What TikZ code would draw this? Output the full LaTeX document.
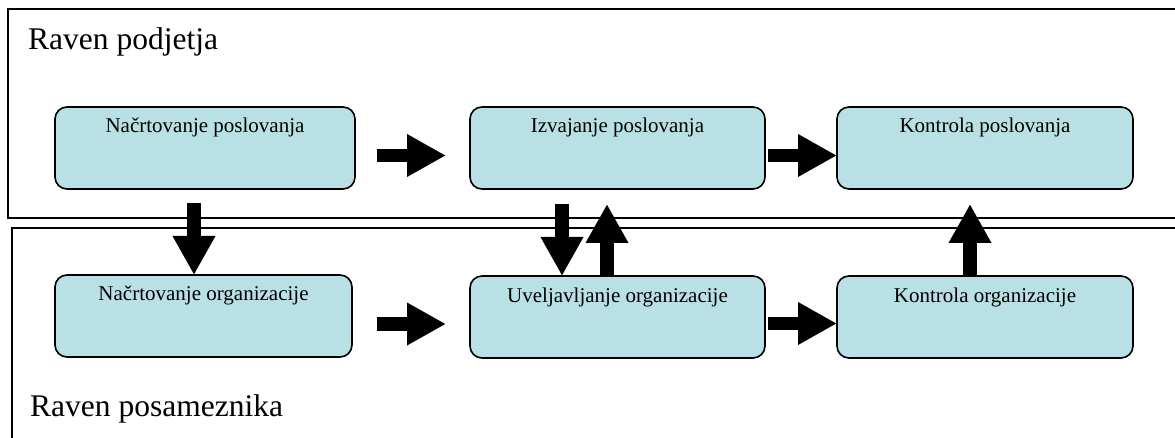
\documentclass[tikz,border=0pt]{standalone}
\usepackage{fontspec}
\setmainfont{Liberation Serif}
\usetikzlibrary{arrows.meta}
\definecolor{boxfill}{RGB}{185,224,228}
\tikzset{
  box/.style={draw=black, line width=1.6pt, fill=boxfill, rounded corners=12pt,
    anchor=north west, minimum width=300pt, minimum height=82pt, inner sep=0pt, outer sep=0pt},
  boxtext/.style={anchor=base, yshift=-26pt, font=\fontsize{21}{25}\selectfont, inner sep=0pt},
  frame/.style={draw=black, line width=1.8pt},
  title/.style={anchor=base west, inner sep=0pt, font=\fontsize{31.5}{37}\selectfont},
  blk/.style={line width=13.5pt, line cap=butt, -{Triangle[width=40pt,length=39pt]}}
}
\begin{document}
\begin{tikzpicture}[x=1pt,y=-1pt, label distance=0pt]
\useasboundingbox (0,0) rectangle (1175,438);
\clip (0,0) rectangle (1175,438);
\fill[white] (0,0) rectangle (1175,438);
% frames
\draw[frame] (8,9) rectangle (1200,218);
\draw[frame] (12,228) rectangle (1200,460);
\node[title] (t1) at (28,50) {Raven podjetja};
\node[title] (t2) at (30,416) {Raven posameznika};
% boxes
\node[box, label={[boxtext]north:Načrtovanje poslovanja}] (b1) at (55,107) {};
\node[box, minimum width=295pt, label={[boxtext]north:Izvajanje poslovanja}] (b2) at (470,107) {};
\node[box, minimum width=296pt, label={[boxtext]north:Kontrola poslovanja}] (b3) at (837,107) {};
\node[box, minimum width=297pt, label={[boxtext]north:Načrtovanje organizacije}] (b4) at (55,275) {};
\node[box, minimum width=295pt, label={[boxtext]north:Uveljavljanje organizacije}] (b5) at (470,276) {};
\node[box, minimum width=296pt, label={[boxtext]north:Kontrola organizacije}] (b6) at (837,276) {};
% arrow end points
\coordinate (s1) at (377,155.5);
\coordinate (e1) at (446,155.5);
\coordinate (s2) at (768,155.5);
\coordinate (s3) at (377,324);
\coordinate (e3) at (446,324);
\coordinate (s4) at (768,323.5);
\coordinate (s5) at (194,203);
\coordinate (s6) at (562,204);
\coordinate (e7) at (607,204);
\coordinate (e8) at (970,204);
% arrows
\draw[blk] (s1) -- (e1);
\draw[blk] (s2) -- (s2 -| b3.west);
\draw[blk] (s3) -- (e3);
\draw[blk] (s4) -- (s4 -| b6.west);
\draw[blk] (s5) -- (s5 |- b4.north);
\draw[blk] (s6) -- (s6 |- b5.north);
\draw[blk] (e7 |- b5.north) -- (e7);
\draw[blk] (e8 |- b6.north) -- (e8);
\end{tikzpicture}
\end{document}
